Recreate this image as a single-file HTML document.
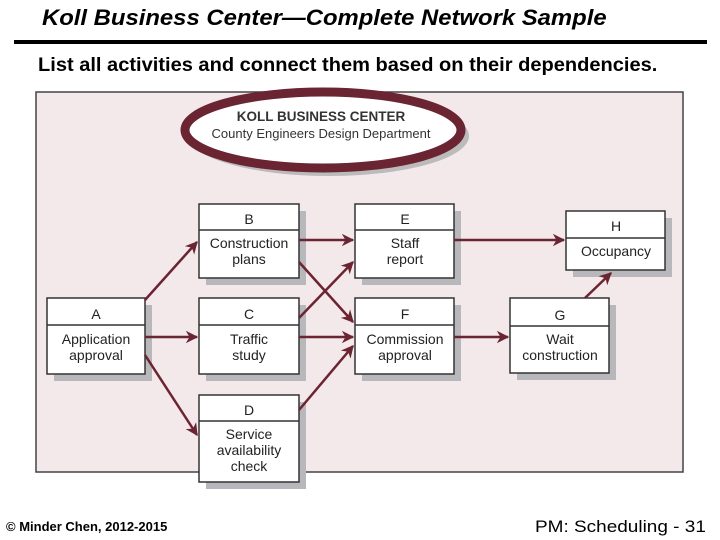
<!DOCTYPE html>
<html><head><style>
body{margin:0;width:720px;height:540px;background:#fff;position:relative;overflow:hidden;font-family:"Liberation Sans",Arial,sans-serif}
.t{position:absolute;white-space:nowrap;color:#000}
</style></head><body>
<div class="t" style="left:42px;top:5px;font-size:22.5px;font-weight:bold;font-style:italic;transform:scaleX(1.06);transform-origin:0 0">Koll Business Center—Complete Network Sample</div>
<div style="position:absolute;left:14px;top:40px;width:693px;height:4px;background:#000"></div>
<div class="t" style="left:38px;top:55px;font-size:19px;font-weight:bold;transform:scaleX(1.055);transform-origin:0 0">List all activities and connect them based on their dependencies.</div>
<svg width="720" height="540" style="position:absolute;left:0;top:0" font-family="Liberation Sans, Arial, sans-serif">
<defs><marker id="ar" viewBox="0 0 10 10" refX="9" refY="5" markerWidth="5" markerHeight="5" orient="auto"><path d="M0,0 L10,5 L0,10 L3,5z" fill="#6b2431"/></marker></defs>
<rect x="36" y="92" width="647" height="380" fill="#f3e8ea" stroke="#444" stroke-width="1.5"/>
<ellipse cx="329" cy="136" rx="140" ry="40" fill="#bbb"/>
<ellipse cx="323" cy="130" rx="138" ry="38" fill="#fff" stroke="#6b2431" stroke-width="9"/>
<text x="321" y="121" font-size="13.5" font-weight="bold" text-anchor="middle" fill="#333">KOLL BUSINESS CENTER</text>
<text x="321" y="138" font-size="13" text-anchor="middle" fill="#333">County Engineers Design Department</text>
<g font-size="14" text-anchor="middle" fill="#222">
<g><rect x="54" y="305" width="98" height="76" fill="#b8b8bc"/><rect x="47" y="298" width="98" height="76" fill="#fff" stroke="#333" stroke-width="1.5"/><line x1="47" y1="325" x2="145" y2="325" stroke="#333" stroke-width="1.5"/><text x="96" y="319">A</text><text x="96" y="344">Application</text><text x="96" y="360">approval</text></g>
<g><rect x="206" y="211" width="100" height="74" fill="#b8b8bc"/><rect x="199" y="204" width="100" height="74" fill="#fff" stroke="#333" stroke-width="1.5"/><line x1="199" y1="230" x2="299" y2="230" stroke="#333" stroke-width="1.5"/><text x="249" y="224">B</text><text x="249" y="248">Construction</text><text x="249" y="264">plans</text></g>
<g><rect x="206" y="305" width="100" height="76" fill="#b8b8bc"/><rect x="199" y="298" width="100" height="76" fill="#fff" stroke="#333" stroke-width="1.5"/><line x1="199" y1="325" x2="299" y2="325" stroke="#333" stroke-width="1.5"/><text x="249" y="319">C</text><text x="249" y="344">Traffic</text><text x="249" y="360">study</text></g>
<g><rect x="206" y="402" width="100" height="87" fill="#b8b8bc"/><rect x="199" y="395" width="100" height="87" fill="#fff" stroke="#333" stroke-width="1.5"/><line x1="199" y1="421" x2="299" y2="421" stroke="#333" stroke-width="1.5"/><text x="249" y="415">D</text><text x="249" y="439">Service</text><text x="249" y="455">availability</text><text x="249" y="471">check</text></g>
<g><rect x="362" y="211" width="99" height="74" fill="#b8b8bc"/><rect x="355" y="204" width="99" height="74" fill="#fff" stroke="#333" stroke-width="1.5"/><line x1="355" y1="230" x2="454" y2="230" stroke="#333" stroke-width="1.5"/><text x="405" y="224">E</text><text x="405" y="248">Staff</text><text x="405" y="264">report</text></g>
<g><rect x="362" y="305" width="99" height="76" fill="#b8b8bc"/><rect x="355" y="298" width="99" height="76" fill="#fff" stroke="#333" stroke-width="1.5"/><line x1="355" y1="325" x2="454" y2="325" stroke="#333" stroke-width="1.5"/><text x="405" y="319">F</text><text x="405" y="344">Commission</text><text x="405" y="360">approval</text></g>
<g><rect x="517" y="305" width="99" height="75" fill="#b8b8bc"/><rect x="510" y="298" width="99" height="75" fill="#fff" stroke="#333" stroke-width="1.5"/><line x1="510" y1="326" x2="609" y2="326" stroke="#333" stroke-width="1.5"/><text x="560" y="320">G</text><text x="560" y="344">Wait</text><text x="560" y="360">construction</text></g>
<g><rect x="573" y="218" width="99" height="59" fill="#b8b8bc"/><rect x="566" y="211" width="99" height="59" fill="#fff" stroke="#333" stroke-width="1.5"/><line x1="566" y1="238" x2="665" y2="238" stroke="#333" stroke-width="1.5"/><text x="616" y="231">H</text><text x="616" y="256">Occupancy</text></g>
</g>
<g stroke="#6b2431" stroke-width="2.5" marker-end="url(#ar)" fill="none">
<line x1="145" y1="300" x2="197" y2="242"/>
<line x1="145" y1="337" x2="197" y2="337"/>
<line x1="145" y1="355" x2="197" y2="435"/>
<line x1="299" y1="240" x2="353" y2="240"/>
<line x1="299" y1="262" x2="353" y2="322"/>
<line x1="299" y1="318" x2="353" y2="262"/>
<line x1="299" y1="337" x2="353" y2="337"/>
<line x1="299" y1="410" x2="353" y2="346"/>
<line x1="454" y1="240" x2="564" y2="240"/>
<line x1="454" y1="337" x2="508" y2="337"/>
<line x1="585" y1="298" x2="611" y2="273"/>
</g>
</svg>
<div class="t" style="left:6px;top:519px;font-size:13px;font-weight:bold">© Minder Chen, 2012-2015</div>
<div class="t" style="left:535px;top:518px;font-size:16.5px;transform:scaleX(1.15);transform-origin:0 0">PM: Scheduling - 31</div>
</body></html>
